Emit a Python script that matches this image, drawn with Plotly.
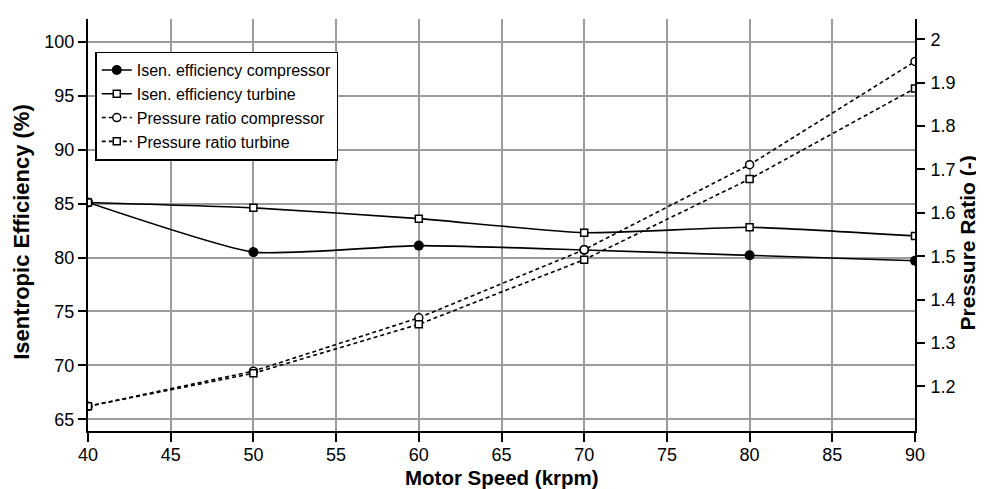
import plotly.graph_objects as go

# ---- data ----
motor_speed = [40, 50, 60, 70, 80, 90]
eff_compressor = [85.1, 80.5, 81.1, 80.7, 80.2, 79.7]
eff_turbine = [85.1, 84.6, 83.6, 82.3, 82.8, 82.0]
pr_compressor = [1.154, 1.235, 1.358, 1.515, 1.711, 1.949]
pr_turbine = [1.154, 1.230, 1.343, 1.492, 1.678, 1.887]

x_ticks = [40, 45, 50, 55, 60, 65, 70, 75, 80, 85, 90]
eff_ticks = [65, 70, 75, 80, 85, 90, 95, 100]
pr_ticks = [1.2, 1.3, 1.4, 1.5, 1.6, 1.7, 1.8, 1.9, 2.0]
pr_ticklabels = ["1.2", "1.3", "1.4", "1.5", "1.6", "1.7", "1.8", "1.9", "2"]

x_title = "Motor Speed (krpm)"
y_title = "Isentropic Efficiency (%)"
y2_title = "Pressure Ratio (-)"

FONT = "Liberation Sans, Arial, Helvetica, sans-serif"

fig = go.Figure()

fig.add_trace(go.Scatter(
    x=motor_speed, y=eff_compressor, name="Isen. efficiency compressor",
    mode="lines+markers", line=dict(color="black", width=1.6, shape="spline", smoothing=0.5),
    marker=dict(symbol="circle", size=10, color="black"), yaxis="y"))
fig.add_trace(go.Scatter(
    x=motor_speed, y=eff_turbine, name="Isen. efficiency turbine",
    mode="lines+markers", line=dict(color="black", width=1.6, shape="spline", smoothing=0.5),
    marker=dict(symbol="square", size=7, color="white", line=dict(color="black", width=1.5)),
    yaxis="y"))
fig.add_trace(go.Scatter(
    x=motor_speed, y=pr_compressor, name="Pressure ratio compressor",
    mode="lines+markers", line=dict(color="black", width=1.6, dash="4px,3px"),
    marker=dict(symbol="circle", size=8, color="white", line=dict(color="black", width=1.5)),
    yaxis="y2"))
fig.add_trace(go.Scatter(
    x=motor_speed, y=pr_turbine, name="Pressure ratio turbine",
    mode="lines+markers", line=dict(color="black", width=1.6, dash="4px,3px"),
    marker=dict(symbol="square", size=7, color="white", line=dict(color="black", width=1.5)),
    yaxis="y2"))

fig.update_layout(
    width=984, height=489,
    margin=dict(l=80, r=77, t=11, b=66, autoexpand=False),
    paper_bgcolor="white", plot_bgcolor="white",
    font=dict(family=FONT, color="black", size=18),
    showlegend=True,
    legend=dict(
        x=0.0088, y=0.921, xanchor="left", yanchor="top",
        bgcolor="white", bordercolor="black", borderwidth=1.5,
        font=dict(family=FONT, size=16, color="black"),
        tracegroupgap=0, itemwidth=30,
    ),
    xaxis=dict(
        range=[40, 90], tickvals=x_ticks, automargin=False,
        showgrid=True, gridcolor="#9c9c9c", gridwidth=1.5,
        showline=True, linecolor="black", linewidth=2,
        ticks="outside", ticklen=9, tickwidth=2, tickcolor="black",
        ticklabelstandoff=-3,
        zeroline=False,
    ),
    yaxis=dict(
        range=[63.93, 102.09], tickvals=eff_ticks, automargin=False,
        showgrid=True, gridcolor="#9c9c9c", gridwidth=1.5,
        showline=True, linecolor="black", linewidth=2,
        ticks="outside", ticklen=8, tickwidth=2, tickcolor="black",
        zeroline=False,
    ),
    yaxis2=dict(
        range=[1.097, 2.047], tickvals=pr_ticks, ticktext=pr_ticklabels,
        overlaying="y", side="right", anchor="x", automargin=False,
        showgrid=False,
        showline=True, linecolor="black", linewidth=2,
        ticks="outside", ticklen=8, tickwidth=2, tickcolor="black",
        ticklabelstandoff=2,
        zeroline=False,
    ),
    annotations=[
        dict(text=f"<b>{x_title}</b>", xref="paper", yref="paper",
             x=0.5, y=-0.1132, xanchor="center", yanchor="middle",
             showarrow=False, font=dict(size=20.5, family=FONT, color="black")),
        dict(text=f"<b>{y_title}</b>", xref="paper", yref="paper",
             x=-0.0813, y=0.483, xanchor="center", yanchor="middle", textangle=-90,
             showarrow=False, font=dict(size=22, family=FONT, color="black")),
        dict(text=f"<b>{y2_title}</b>", xref="paper", yref="paper",
             x=1.0646, y=0.4564, xanchor="center", yanchor="middle", textangle=-90,
             showarrow=False, font=dict(size=21, family=FONT, color="black")),
    ],
)

fig.write_html("out.html")
